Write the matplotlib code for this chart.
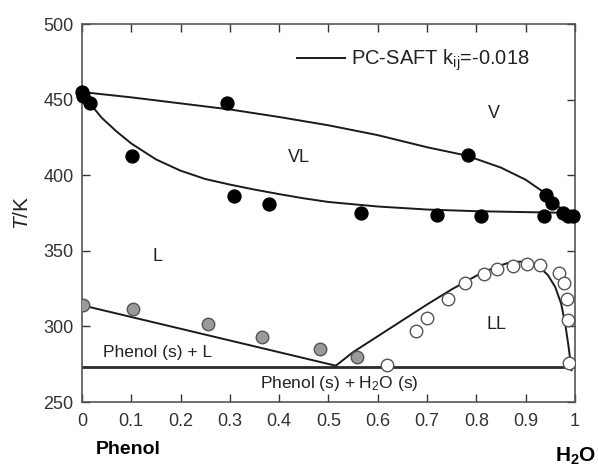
import numpy as np
import matplotlib
matplotlib.use("Agg")
from matplotlib import pyplot as plt

plt.rcParams['font.family'] = ['Liberation Sans', 'DejaVu Sans']
plt.rcParams['mathtext.fontset'] = 'custom'
plt.rcParams['mathtext.rm'] = 'Liberation Sans'
plt.rcParams['mathtext.it'] = 'Liberation Sans:italic'

# ---------------- experimental data (x water, T / K) ----------------
# VLE points (black)
vle_x = [0.0, 0.003, 0.016, 0.101, 0.295, 0.309, 0.380, 0.567, 0.721, 0.783,
         0.809, 0.937, 0.941, 0.953, 0.975, 0.985, 0.995]
vle_T = [455.0, 452.5, 447.7, 412.7, 447.7, 386.0, 381.0, 375.0, 373.5, 413.4,
         373.0, 372.8, 387.0, 381.6, 375.0, 372.8, 372.8]

# SLE points, phenol side (grey)
sle_x = [0.003, 0.103, 0.255, 0.365, 0.482, 0.558]
sle_T = [314.0, 311.3, 301.6, 293.2, 284.9, 279.5]

# LLE points (open)
lle_x = [0.619, 0.677, 0.699, 0.743, 0.777, 0.816, 0.841, 0.875, 0.902, 0.929,
         0.968, 0.977, 0.983, 0.986, 0.987]
lle_T = [274.5, 297.0, 305.4, 318.0, 328.5, 334.6, 338.0, 340.0, 341.0, 340.6,
         335.0, 328.5, 318.1, 304.2, 275.6]

# ---------------- PC-SAFT curves ----------------
dew_x = [0.0, 0.1, 0.2, 0.3, 0.4, 0.5, 0.6, 0.7, 0.78, 0.85, 0.9, 0.94, 0.96, 0.98, 1.0]
dew_T = [455.0, 451.5, 447.5, 443.5, 438.5, 433.0, 426.5, 418.5, 413.0, 405.0,
         397.0, 388.0, 381.0, 376.0, 374.0]

bub_x = [0.0, 0.015, 0.04, 0.07, 0.1, 0.15, 0.2, 0.25, 0.3, 0.35, 0.4, 0.45,
         0.5, 0.6, 0.7, 0.8, 0.9, 0.97, 1.0]
bub_T = [455.0, 448.0, 438.0, 429.0, 421.0, 410.5, 403.0, 397.5, 393.8, 390.5,
         387.5, 384.7, 382.3, 379.3, 377.3, 376.2, 375.6, 375.2, 374.0]

sl_x = [0.0, 0.515]
sl_T = [314.0, 274.0]

ll_x = [0.515, 0.55, 0.6, 0.65, 0.7, 0.75, 0.8, 0.84, 0.87, 0.9, 0.925, 0.945,
        0.96, 0.972, 0.98, 0.986, 0.99, 0.993]
ll_T = [274.0, 283.0, 293.5, 304.0, 314.5, 324.5, 333.5, 339.5, 342.5, 343.0,
        340.0, 334.0, 326.0, 315.0, 302.0, 289.0, 279.0, 271.0]

eut_x = [0.0, 1.0]
eut_T = [273.3, 273.3]

# ---------------- малювання ----------------
fig = plt.figure(figsize=(5.98, 4.68), dpi=100)
ax = fig.add_axes([0.137, 0.141, 0.8245, 0.8077])

line_kw = dict(color='#1a1a1a', lw=1.4)
ax.plot(dew_x, dew_T, label='PC-SAFT k$_{\\mathregular{ij}}$=-0.018', **line_kw)
ax.plot(bub_x, bub_T, **line_kw)
ax.plot(sl_x, sl_T, **line_kw)
ax.plot(ll_x, ll_T, **line_kw)
ax.plot(eut_x, eut_T, color='#2a2a2a', lw=2.0)

ax.plot(vle_x, vle_T, 'o', color='black', ms=9.3, zorder=5, clip_on=False)
ax.plot(sle_x, sle_T, 'o', mfc='#9a9a9a', mec='#555555', mew=1.0, ms=9, zorder=5)
ax.plot(lle_x, lle_T, 'o', mfc='white', mec='#555555', mew=1.0, ms=9, zorder=5)

# підписи областей
ax.text(0.835, 441, 'V', fontsize=13, color='#222222', ha='center', va='center')
ax.text(0.44, 412, 'VL', fontsize=13, color='#222222', ha='center', va='center')
ax.text(0.153, 346, 'L', fontsize=13, color='#222222', ha='center', va='center')
ax.text(0.84, 301, 'LL', fontsize=13, color='#222222', ha='center', va='center')
ax.text(0.154, 282.5, 'Phenol (s) + L', fontsize=12.5, color='#222222', ha='center', va='center')
ax.text(0.522, 262.5, 'Phenol (s) + H$_\\mathregular{2}$O (s)', fontsize=12.5, color='#222222',
        ha='center', va='center')

ax.set_xlim(0, 1)
ax.set_ylim(250, 500)
ax.set_xticks(np.arange(0, 1.01, 0.1))
ax.set_xticklabels(['0', '0.1', '0.2', '0.3', '0.4', '0.5', '0.6', '0.7', '0.8', '0.9', '1'])
ax.set_yticks([250, 300, 350, 400, 450, 500])
ax.tick_params(direction='in', length=6, width=1, colors='#333333', labelsize=13,
               top=True, right=True, pad=6)
ax.tick_params(axis='x', pad=8)
for s in ax.spines.values():
    s.set_color('#555555')
    s.set_linewidth(1.2)

ax.set_ylabel('$\\mathit{T}$/K', fontsize=15, color='#222222', labelpad=8)

leg = ax.legend(loc='center left', bbox_to_anchor=(0.436, 0.903), frameon=False, fontsize=14.5,
                handlelength=2.4, handletextpad=0.3, borderpad=0, borderaxespad=0)
for t in leg.get_texts():
    t.set_color('#222222')

fig.text(0.215, 0.04, 'Phenol', fontsize=14, fontweight='bold', ha='center', va='center')
fig.text(0.962, 0.025, 'H$_\\mathregular{2}$O', fontsize=15, fontweight='bold', ha='center', va='center')

fig.savefig('out.png', dpi=100)
